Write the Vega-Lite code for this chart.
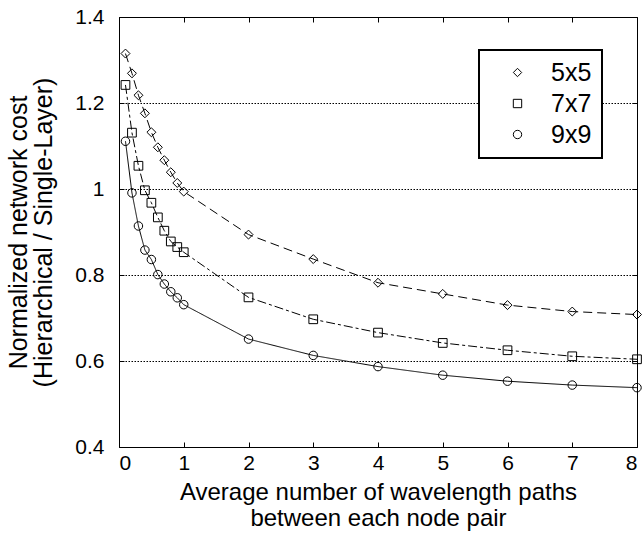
{
  "$schema": "https://vega.github.io/schema/vega-lite/v6.json",
  "width": 518,
  "height": 430,
  "autosize": "none",
  "padding": {"left": 119, "top": 17, "right": 5, "bottom": 90},
  "background": "white",
  "config": {
    "font": "Liberation Sans",
    "view": {"stroke": "black", "strokeWidth": 1},
    "legend": {"strokeWidth": 2},
    "axis": {
      "domain": false,
      "labelColor": "black",
      "titleColor": "black",
      "titleFontWeight": "normal",
      "titleFont": "Liberation Sans",
      "labelFont": "Liberation Sans",
      "tickColor": "black",
      "tickWidth": 1
    }
  },
  "data": {
    "values": [
      {"x": 0.1, "v": 1.315, "s": "5x5"}, {"x": 0.2, "v": 1.269, "s": "5x5"}, {"x": 0.3, "v": 1.218, "s": "5x5"},
      {"x": 0.4, "v": 1.176, "s": "5x5"}, {"x": 0.5, "v": 1.132, "s": "5x5"}, {"x": 0.6, "v": 1.097, "s": "5x5"},
      {"x": 0.7, "v": 1.067, "s": "5x5"}, {"x": 0.8, "v": 1.039, "s": "5x5"}, {"x": 0.9, "v": 1.014, "s": "5x5"},
      {"x": 1, "v": 0.994, "s": "5x5"}, {"x": 2, "v": 0.894, "s": "5x5"}, {"x": 3, "v": 0.837, "s": "5x5"},
      {"x": 4, "v": 0.782, "s": "5x5"}, {"x": 5, "v": 0.756, "s": "5x5"}, {"x": 6, "v": 0.730, "s": "5x5"},
      {"x": 7, "v": 0.715, "s": "5x5"}, {"x": 8, "v": 0.708, "s": "5x5"},
      {"x": 0.1, "v": 1.242, "s": "7x7"}, {"x": 0.2, "v": 1.131, "s": "7x7"}, {"x": 0.3, "v": 1.054, "s": "7x7"},
      {"x": 0.4, "v": 0.997, "s": "7x7"}, {"x": 0.5, "v": 0.968, "s": "7x7"}, {"x": 0.6, "v": 0.934, "s": "7x7"},
      {"x": 0.7, "v": 0.903, "s": "7x7"}, {"x": 0.8, "v": 0.878, "s": "7x7"}, {"x": 0.9, "v": 0.865, "s": "7x7"},
      {"x": 1, "v": 0.853, "s": "7x7"}, {"x": 2, "v": 0.748, "s": "7x7"}, {"x": 3, "v": 0.697, "s": "7x7"},
      {"x": 4, "v": 0.666, "s": "7x7"}, {"x": 5, "v": 0.642, "s": "7x7"}, {"x": 6, "v": 0.625, "s": "7x7"},
      {"x": 7, "v": 0.611, "s": "7x7"}, {"x": 8, "v": 0.604, "s": "7x7"},
      {"x": 0.1, "v": 1.111, "s": "9x9"}, {"x": 0.2, "v": 0.991, "s": "9x9"}, {"x": 0.3, "v": 0.914, "s": "9x9"},
      {"x": 0.4, "v": 0.858, "s": "9x9"}, {"x": 0.5, "v": 0.836, "s": "9x9"}, {"x": 0.6, "v": 0.801, "s": "9x9"},
      {"x": 0.7, "v": 0.779, "s": "9x9"}, {"x": 0.8, "v": 0.761, "s": "9x9"}, {"x": 0.9, "v": 0.747, "s": "9x9"},
      {"x": 1, "v": 0.731, "s": "9x9"}, {"x": 2, "v": 0.651, "s": "9x9"}, {"x": 3, "v": 0.613, "s": "9x9"},
      {"x": 4, "v": 0.587, "s": "9x9"}, {"x": 5, "v": 0.567, "s": "9x9"}, {"x": 6, "v": 0.553, "s": "9x9"},
      {"x": 7, "v": 0.544, "s": "9x9"}, {"x": 8, "v": 0.538, "s": "9x9"}
    ]
  },
  "resolve": {"axis": {"x": "independent", "y": "independent"}},
  "layer": [
    {
      "mark": {"type": "line", "color": "black", "strokeWidth": 1},
      "encoding": {
        "x": {
          "field": "x", "type": "quantitative",
          "scale": {"domain": [0, 8], "nice": false},
          "axis": {
            "orient": "bottom", "values": [0, 1, 2, 3, 4, 5, 6, 7, 8], "grid": false,
            "tickSize": -5, "labelPadding": 10, "labelFontSize": 21,
            "title": ["Average number of wavelength paths", "between each node pair"],
            "titleFontSize": 24, "titleLineHeight": 26, "titlePadding": 7
          }
        },
        "y": {
          "field": "v", "type": "quantitative",
          "scale": {"domain": [0.4, 1.4], "nice": false, "zero": false},
          "axis": {
            "orient": "left", "values": [0.4, 0.6, 0.8, 1.0, 1.2, 1.4], "format": "~g",
            "grid": true, "gridColor": "black", "gridDash": [1.5, 1.5], "gridWidth": 1, "gridOpacity": 1,
            "tickSize": -5, "labelPadding": 20, "labelFontSize": 21,
            "title": ["Normalized network cost", "(Hierarchical / Single-Layer)"],
            "titleFontSize": 25, "titleLineHeight": 25, "titlePadding": 18
          }
        },
        "strokeDash": {
          "field": "s", "type": "nominal",
          "scale": {"domain": ["9x9", "5x5", "7x7"], "range": [[1, 0], [9, 5], [9, 3, 3, 3]]},
          "legend": null
        }
      }
    },
    {
      "mark": {"type": "point", "filled": false, "color": "black", "strokeWidth": 1, "opacity": 1},
      "encoding": {
        "x": {
          "field": "x", "type": "quantitative",
          "axis": {"orient": "top", "values": [0, 1, 2, 3, 4, 5, 6, 7, 8], "grid": false, "labels": false, "title": null, "tickSize": -5}
        },
        "y": {
          "field": "v", "type": "quantitative",
          "axis": {"orient": "right", "values": [0.4, 0.6, 0.8, 1.0, 1.2, 1.4], "grid": false, "labels": false, "title": null, "tickSize": -5}
        },
        "size": {
          "field": "s", "type": "nominal",
          "scale": {"domain": ["9x9", "7x7", "5x5"], "range": [72, 80, 115]},
          "legend": null
        },
        "shape": {
          "field": "s", "type": "nominal",
          "scale": {"domain": ["5x5", "7x7", "9x9"], "range": ["diamond", "square", "circle"]},
          "legend": {
            "orient": "none", "legendX": 360, "legendY": 33,
            "title": null,
            "strokeColor": "black", "fillColor": "white",
            "padding": 10,
            "symbolSize": 70,
            "symbolOffset": 16,
            "symbolStrokeColor": "black", "symbolStrokeWidth": 1, "symbolFillColor": "transparent",
            "labelFont": "Liberation Sans", "labelFontSize": 25, "labelColor": "black",
            "labelOffset": 21, "rowPadding": 5
          }
        }
      }
    }
  ]
}
